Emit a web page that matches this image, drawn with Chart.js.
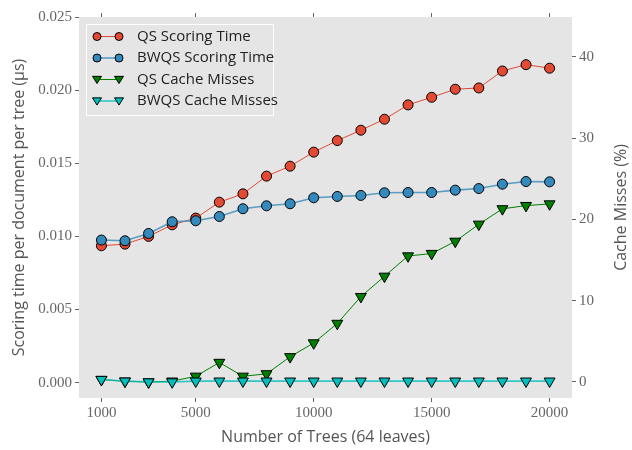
<!DOCTYPE html>
<html>
<head>
<meta charset="utf-8">
<script src="https://cdn.jsdelivr.net/npm/chart.js@4.4.1/dist/chart.umd.min.js"></script>
<style>
  html, body { margin: 0; padding: 0; background: #fff; }
  #wrap { width: 632px; height: 450px; }
</style>
</head>
<body>
<div id="wrap"><canvas id="chart" width="632" height="450"></canvas></div>
<script>
// number of trees
const trees = [1000, 2000, 3000, 4000, 5000, 6000, 7000, 8000, 9000, 10000,
  11000, 12000, 13000, 14000, 15000, 16000, 17000, 18000, 19000, 20000];

// scoring time per document per tree (us)
const qsTime = [0.00936, 0.00947, 0.01000, 0.01079, 0.01125, 0.01234, 0.01291, 0.01412, 0.01480, 0.01576,
  0.01655, 0.01726, 0.01801, 0.01899, 0.01951, 0.02006, 0.02015, 0.02131, 0.02174, 0.02150];
const bwqsTime = [0.00975, 0.00970, 0.01020, 0.01100, 0.01107, 0.01136, 0.01189, 0.01209, 0.01223, 0.01264,
  0.01273, 0.01280, 0.01298, 0.01300, 0.01300, 0.01316, 0.01327, 0.01357, 0.01375, 0.01373];

// cache misses (%)
const qsMiss = [0.3, 0.1, 0.0, 0.1, 0.7, 2.4, 0.7, 1.0, 3.1, 4.8,
  7.2, 10.5, 13.0, 15.5, 15.8, 17.3, 19.4, 21.3, 21.7, 21.9];
const bwqsMiss = [0.3, 0.1, 0.0, 0.0, 0.1, 0.1, 0.1, 0.1, 0.1, 0.1,
  0.1, 0.1, 0.1, 0.1, 0.1, 0.1, 0.1, 0.1, 0.1, 0.1];

const xTicks = [1000, 5000, 10000, 15000, 20000];
const leftTicks = [0, 0.005, 0.01, 0.015, 0.02, 0.025];
const rightTicks = [0, 10, 20, 30, 40];

const serif = "'Liberation Serif', serif";
const sans = "'Open Sans', sans-serif";
const tickColor = "#666";
const titleColor = "#555";
const rightTitle = "Cache Misses (%)";

function xy(ys) {
  return trees.map((t, i) => ({ x: t, y: ys[i] }));
}

function setTicks(list) {
  return axis => { axis.ticks = list.map(v => ({ value: v })); };
}

// matplotlib style legend inside the plot
const innerLegend = {
  id: "innerLegend",
  afterDraw(chart) {
    const { ctx, chartArea } = chart;
    const x0 = chartArea.left + 7, y0 = chartArea.top + 7;
    const w = 188, h = 92;
    ctx.save();
    ctx.fillStyle = "#e5e5e5";
    ctx.strokeStyle = "#ffffff";
    ctx.lineWidth = 1;
    ctx.fillRect(x0, y0, w, h);
    ctx.strokeRect(x0 + 0.5, y0 + 0.5, w - 1, h - 1);
    chart.data.datasets.forEach((ds, row) => {
      const cy = y0 + 12.5 + row * 21.5;
      const xa = x0 + 11, xb = x0 + 33;
      ctx.strokeStyle = ds.borderColor;
      ctx.lineWidth = ds.borderWidth;
      ctx.beginPath();
      ctx.moveTo(xa, cy);
      ctx.lineTo(xb, cy);
      ctx.stroke();
      [xa, xb].forEach(px => {
        ctx.fillStyle = ds.pointBackgroundColor;
        ctx.strokeStyle = "#000";
        ctx.lineWidth = 1;
        ctx.beginPath();
        if (ds.pointStyle === "triangle") {
          const r = 4.5;
          ctx.moveTo(px - r, cy - r * 0.7);
          ctx.lineTo(px + r, cy - r * 0.7);
          ctx.lineTo(px, cy + r * 0.9);
          ctx.closePath();
        } else {
          ctx.arc(px, cy, 4, 0, Math.PI * 2);
        }
        ctx.fill();
        ctx.stroke();
      });
      ctx.fillStyle = "#222";
      ctx.font = "15px " + sans;
      ctx.textBaseline = "middle";
      ctx.textAlign = "left";
      ctx.fillText(ds.label, x0 + 51, cy);
    });
    ctx.restore();
  }
};

const plotBg = {
  id: "plotBg",
  beforeDraw(chart) {
    const { ctx, chartArea } = chart;
    ctx.save();
    ctx.fillStyle = "#e5e5e5";
    ctx.fillRect(chartArea.left, chartArea.top, chartArea.right - chartArea.left, chartArea.bottom - chartArea.top);
    ctx.restore();
  }
};

// right axis title reads bottom-to-top like matplotlib
const rightTitlePlugin = {
  id: "rightTitle",
  afterDraw(chart) {
    const { ctx, chartArea } = chart;
    ctx.save();
    ctx.translate(chart.width - 11, (chartArea.top + chartArea.bottom) / 2);
    ctx.rotate(-Math.PI / 2);
    ctx.fillStyle = titleColor;
    ctx.font = "16px " + sans;
    ctx.textAlign = "center";
    ctx.textBaseline = "middle";
    ctx.fillText(rightTitle, 0, 0);
    ctx.restore();
  }
};

const tickGrid = {
  display: true,
  drawOnChartArea: false,
  drawTicks: true,
  tickLength: 4,
  color: "#666",
  lineWidth: 1
};

new Chart(document.getElementById("chart"), {
  type: "line",
  data: {
    datasets: [
      {
        label: "QS Scoring Time",
        data: xy(qsTime),
        yAxisID: "y",
        borderColor: "#E24A33",
        backgroundColor: "#E24A33",
        pointBackgroundColor: "#E24A33",
        pointBorderColor: "#000",
        borderWidth: 1,
        pointBorderWidth: 1,
        pointRadius: 5,
        pointStyle: "circle",
        order: 4
      },
      {
        label: "BWQS Scoring Time",
        data: xy(bwqsTime),
        yAxisID: "y",
        borderColor: "rgba(52,138,189,0.8)",
        backgroundColor: "#348ABD",
        pointBackgroundColor: "#348ABD",
        pointBorderColor: "#000",
        borderWidth: 1.6,
        pointBorderWidth: 1,
        pointRadius: 5,
        pointStyle: "circle",
        order: 3
      },
      {
        label: "QS Cache Misses",
        data: xy(qsMiss),
        yAxisID: "y2",
        borderColor: "#008000",
        backgroundColor: "#008000",
        pointBackgroundColor: "#008000",
        pointBorderColor: "#000",
        borderWidth: 1,
        pointBorderWidth: 1,
        pointRadius: 6.3,
        pointStyle: "triangle",
        pointRotation: 180,
        order: 2
      },
      {
        label: "BWQS Cache Misses",
        data: xy(bwqsMiss),
        yAxisID: "y2",
        borderColor: "rgba(0,191,191,0.8)",
        backgroundColor: "#00BFBF",
        pointBackgroundColor: "#00BFBF",
        pointBorderColor: "#000",
        borderWidth: 1.6,
        pointBorderWidth: 1,
        pointRadius: 6.3,
        pointStyle: "triangle",
        pointRotation: 180,
        order: 1
      }
    ]
  },
  options: {
    responsive: false,
    animation: false,
    layout: { padding: 0 },
    plugins: {
      legend: { display: false },
      tooltip: { enabled: false }
    },
    scales: {
      x: {
        type: "linear",
        position: "bottom",
        min: 50,
        max: 20950,
        afterBuildTicks: setTicks(xTicks),
        afterFit: s => { s.height = 52; },
        grid: tickGrid,
        border: { display: false },
        ticks: {
          color: tickColor,
          font: { family: serif, size: 15 },
          padding: 2,
          maxRotation: 0,
          callback: v => String(v)
        },
        title: {
          display: true,
          text: "Number of Trees (64 leaves)",
          color: titleColor,
          font: { family: sans, size: 16 },
          padding: { top: 0, bottom: 3 }
        }
      },
      x2: {
        type: "linear",
        position: "top",
        min: 50,
        max: 20950,
        afterBuildTicks: setTicks(xTicks),
        afterFit: s => { s.height = 17; },
        grid: tickGrid,
        border: { display: false },
        ticks: { display: false }
      },
      y: {
        type: "linear",
        position: "left",
        min: -0.00105,
        max: 0.025,
        afterBuildTicks: setTicks(leftTicks),
        afterFit: s => { s.width = 79; },
        grid: tickGrid,
        border: { display: false },
        ticks: {
          color: tickColor,
          font: { family: serif, size: 15 },
          padding: 3,
          callback: v => v.toFixed(3)
        },
        title: {
          display: true,
          text: "Scoring time per document per tree (μs)",
          color: titleColor,
          font: { family: sans, size: 16 },
          padding: { top: 10, bottom: 0 }
        }
      },
      y2: {
        type: "linear",
        position: "right",
        min: -1.97,
        max: 44.9,
        afterBuildTicks: setTicks(rightTicks),
        afterFit: s => { s.width = 60; },
        grid: tickGrid,
        border: { display: false },
        ticks: {
          color: tickColor,
          font: { family: serif, size: 15 },
          padding: 3,
          callback: v => String(v)
        }
      }
    }
  },
  plugins: [plotBg, innerLegend, rightTitlePlugin]
});
</script>
</body>
</html>
